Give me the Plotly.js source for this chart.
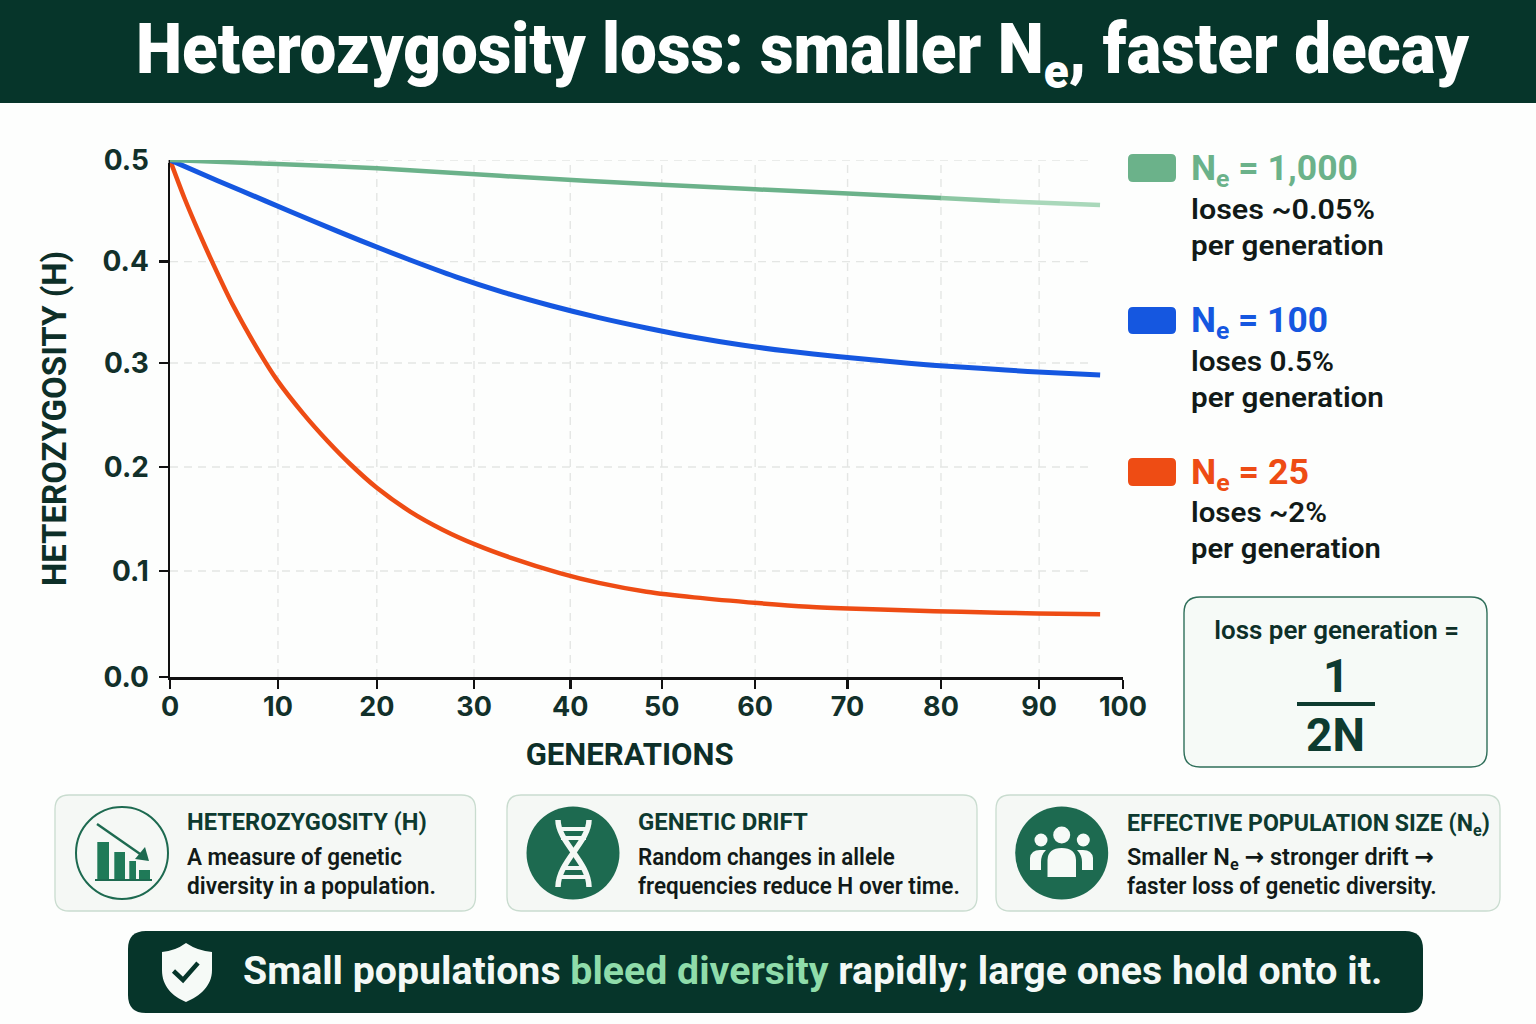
<!DOCTYPE html>
<html>
<head>
<meta charset="utf-8">
<script src="https://cdn.plot.ly/plotly-3.0.1.min.js"></script>
<style>html,body{margin:0;padding:0;background:#fdfefd}</style>
</head>
<body>
<div id="chart" style="width:1536px;height:1024px"></div>
<script>
// ---- data ----
const orangeX = [0,1.5,3.15,4.5,6.5,9.4,11.2,14,16.5,18.9,21.7,25.2,28.6,32.2,35.7,40.9,45,50,55,61.7,67,72,77,83,91,97.6];
const orangeY = [0.5,0.4635,0.4275,0.4,0.3615,0.3137,0.2876,0.2545,0.2285,0.206,0.183,0.16,0.1425,0.1275,0.1155,0.1005,0.091,0.0825,0.077,0.0715,0.068,0.066,0.0645,0.063,0.0615,0.0608];
const blueX = [0,5,10,15,20,25,30,35,40,45,50,55,60,65,70,75,80,85,90,97.6];
const blueY = [0.5,0.48,0.4605,0.441,0.422,0.404,0.387,0.372,0.359,0.3475,0.3375,0.3285,0.321,0.315,0.31,0.3055,0.3015,0.2985,0.2955,0.2921];
const greenX = [0,11.23,21.72,34.63,51.63,71.14,80.9,87.09,97.59];
const greenY = [0.5,0.4961,0.492,0.4847,0.476,0.4676,0.4632,0.4603,0.4565];
const xTickVals = [0,11.33,21.7,31.9,42,51.6,61.4,71.1,80.9,91.2,100];
const xTickText = ["0","10","20","30","40","50","60","70","80","90","100"];
const yTickVals = [0,0.1025,0.2031,0.3037,0.4017,0.5];
const yTickText = ["0.0","0.1","0.2","0.3","0.4","0.5"];
const seriesNames = ["Ne = 25","Ne = 100","Ne = 1,000"];
const titleText = "Heterozygosity loss: smaller N<sub>e</sub>, faster decay";
const legendHeads = ["N<sub>e</sub> = 1,000","N<sub>e</sub> = 100","N<sub>e</sub> = 25"];
const legendRates = ["loses ~0.05%","loses 0.5%","loses ~2%"];
const legendPer = "per generation";
const ARROW = '<span style="font-family:DejaVu Sans">→</span>';
const cardTitles = ["HETEROZYGOSITY (H)","GENETIC DRIFT","EFFECTIVE POPULATION SIZE (N<sub>e</sub>)"];
const cardLine1 = ["A measure of genetic","Random changes in allele","Smaller N<sub>e</sub> "+ARROW+" stronger drift "+ARROW];
const cardLine2 = ["diversity in a population.","frequencies reduce H over time.","faster loss of genetic diversity."];

// ---- helpers ----
const W = 1536, H = 1024;
const DARK = "#06352a", INK = "#0d2f28", ICON = "#1d6a50", GREEN = "#6bb28a", BLUE = "#1557e0", ORANGE = "#ee4c14";
const px = x => x / W, py = y => 1 - y / H;
const P = s => s.replace(/(-?\d+\.?\d*)[ ,](-?\d+\.?\d*)/g, (m, a, b) => px(+a) + "," + py(+b));
const pathShape = (d, o = {}) => ({type: "path", xref: "paper", yref: "paper", path: P(d),
  fillcolor: o.fill || "rgba(0,0,0,0)", line: {color: o.color || "rgba(0,0,0,0)", width: o.width || 0}, layer: "above"});
const rr = (x0, y0, x1, y1, r) => `M${x0},${y0 + r} Q${x0},${y0} ${x0 + r},${y0} L${x1 - r},${y0} Q${x1},${y0} ${x1},${y0 + r} L${x1},${y1 - r} Q${x1},${y1} ${x1 - r},${y1} L${x0 + r},${y1} Q${x0},${y1} ${x0},${y1 - r} Z`;
const rrect = (x0, y0, x1, y1, r, fill, color, width) => pathShape(rr(x0, y0, x1, y1, r), {fill, color, width});
const circle = (cx, cy, r, fill, color, width) => ({type: "circle", xref: "paper", yref: "paper", x0: px(cx - r), x1: px(cx + r), y0: py(cy + r), y1: py(cy - r),
  fillcolor: fill, line: {color: color || "rgba(0,0,0,0)", width: width || 0}});
const fitWidths = [];
const ann = (text, x, y, size, color, o = {}) => { fitWidths.push(o.tw || 0); return {text, x: px(x), y: py(y), xref: "paper", yref: "paper", showarrow: false,
  xanchor: o.anchor || "left", yanchor: "middle", align: o.anchor === "center" ? "center" : "left", borderpad: 0, borderwidth: 0,
  font: {family: o.family || "Roboto", size, color, weight: o.weight || 500}}; };

// ---- traces ----
const lineTrace = (x, y, color, name, width) => ({x, y, name, type: "scatter", mode: "lines", hoverinfo: "skip", cliponaxis: false,
  line: {color, width, shape: "spline", smoothing: 0.8}});
const traces = [
  lineTrace(orangeX, orangeY, ORANGE, seriesNames[0], 4.5),
  lineTrace(blueX, blueY, BLUE, seriesNames[1], 5),
  lineTrace(greenX.slice(0, 7), greenY.slice(0, 7), GREEN, seriesNames[2], 4.5),
  lineTrace(greenX.slice(6, 8), greenY.slice(6, 8), "#8cc7a3", seriesNames[2], 4.5),
  lineTrace(greenX.slice(7), greenY.slice(7), "#a9d8ba", seriesNames[2], 4.5)
];

// ---- shapes ----
const shapes = [];
const gridLine = {color: "#e4e6e4", width: 1.4, dash: "8px,6px"};
xTickVals.slice(1, -1).forEach(v => shapes.push({type: "line", xref: "x", yref: "y", x0: v, x1: v, y0: 0, y1: 0.5, line: gridLine, layer: "below"}));
yTickVals.slice(1).forEach(v => shapes.push({type: "line", xref: "x", yref: "y", x0: 0, x1: 96.4, y0: v, y1: v, line: gridLine, layer: "below"}));
shapes.push({type: "rect", xref: "paper", yref: "paper", x0: px(158), x1: px(168.6), y0: py(163), y1: py(157), fillcolor: "#fdfefd", line: {width: 0}});
shapes.push({type: "rect", xref: "paper", yref: "paper", x0: 0, x1: 1, y0: py(103), y1: 1, fillcolor: DARK, line: {width: 0}});
shapes.push(rrect(128, 931, 1423, 1013, 18, DARK));
shapes.push(rrect(1128, 154, 1176, 182, 5, GREEN));
shapes.push(rrect(1128, 307, 1176, 334, 5, BLUE));
shapes.push(rrect(1128, 458, 1176, 486, 5, ORANGE));
shapes.push(rrect(1184, 597, 1487, 767, 16, "#f6faf7", "#2f6f5a", 1.4));
shapes.push({type: "rect", xref: "paper", yref: "paper", x0: px(1297), x1: px(1375), y0: py(706), y1: py(702), fillcolor: "#0e3b30", line: {width: 0}});
[[55, 475.5], [507, 977], [996, 1500]].forEach(c => shapes.push(rrect(c[0], 795, c[1], 911, 14, "#f5f8f5", "#c9dccf", 1.3)));
// icon 1: falling bars
shapes.push(circle(122, 853, 46, "rgba(0,0,0,0)", ICON, 2));
[[97.3, 109, 842], [114.3, 125, 852], [129.3, 136, 861], [139, 150, 870]].forEach(b =>
  shapes.push({type: "rect", xref: "paper", yref: "paper", x0: px(b[0]), x1: px(b[1]), y0: py(880), y1: py(b[2]), fillcolor: "#1f7a58", line: {width: 0}}));
shapes.push(pathShape("M95,880 L152,880", {color: ICON, width: 2}));
shapes.push(pathShape("M97,824 L143,856", {color: ICON, width: 2.4}));
shapes.push(pathShape("M149,861 L135,859 L145,847 Z", {fill: ICON}));
// icon 2: DNA
shapes.push(circle(573, 853, 46.5, ICON));
shapes.push(pathShape("M558,820 C558,842 589,862 589,887", {color: "#f4f8f5", width: 5.5}));
shapes.push(pathShape("M589,820 C589,842 558,862 558,887", {color: "#f4f8f5", width: 5.5}));
["M559,829 L588,829", "M561,838 L586,838", "M563,868 L584,868", "M560,877 L587,877"].forEach(d => shapes.push(pathShape(d, {color: "#f4f8f5", width: 4})));
// icon 3: people
shapes.push(circle(1061.7, 853, 46.5, ICON));
[[1041, 840, 6.5], [1083.3, 840, 6.5], [1061.7, 835, 8.5]].forEach(c => shapes.push(circle(c[0], c[1], c[2], "#f6faf7")));
shapes.push(pathShape("M1030,870 L1030,858 Q1031,850 1040,850 L1046,850 Q1041,855 1041,862 L1041,870 Z", {fill: "#f6faf7"}));
shapes.push(pathShape("M1093,870 L1093,858 Q1092,850 1083,850 L1077,850 Q1082,855 1082,862 L1082,870 Z", {fill: "#f6faf7"}));
shapes.push(pathShape("M1047.5,877 L1047.5,860 Q1048,848 1061.7,848 Q1075.5,848 1076,860 L1076,877 Z", {fill: "#f6faf7"}));
// shield
shapes.push(pathShape("M186,943 Q198,951 212,952 L212,970 C212,986 200,996 186,1002 C172,996 162,986 162,970 L162,952 Q175,951 186,943 Z", {fill: "#f6faf7"}));
shapes.push(pathShape("M173.5,971 L183,980 L198,963", {color: DARK, width: 4.5}));

// ---- text ----
const annotations = [];
annotations.push(ann(titleText, 136, 54, 70, "#ffffff", {weight: 900, tw: 1334}));
annotations.push(ann("GENERATIONS", 629, 754, 31, INK, {anchor: "center", weight: 700, tw: 208}));
const headW = [167, 137, 118], rateW = [184, 143, 136], perW = [193, 193, 190];
[168, 320, 472].forEach((y, i) => {
  annotations.push(ann(legendHeads[i], 1191, y + 2, 35, [GREEN, BLUE, ORANGE][i], {weight: 700, tw: headW[i]}));
  annotations.push(ann(legendRates[i], 1191, y + (i === 2 ? 40 : 41), 28, "#111a18", {weight: 600, tw: rateW[i]}));
  annotations.push(ann(legendPer, 1191, y + (i === 2 ? 76 : 77), 28, "#111a18", {weight: 600, tw: perW[i]}));
});
annotations.push(ann("loss per generation =", 1336, 630, 26, INK, {anchor: "center", weight: 600, tw: 245}));
annotations.push(ann("1", 1336, 676, 46, "#0e3b30", {anchor: "center", weight: 700}));
annotations.push(ann("2N", 1335, 735, 46, "#0e3b30", {anchor: "center", weight: 700}));
const cardTW = [240, 170, 363], line1TW = [215, 257, 307], line2TW = [249, 322, 310];
[187, 638, 1127].forEach((x, i) => {
  annotations.push(ann(cardTitles[i], x, i === 2 ? 824 : 822, 24, "#0d3a2f", {weight: 700, tw: cardTW[i]}));
  annotations.push(ann(cardLine1[i], x, i === 2 ? 858 : 857, 24, "#111a18", {weight: 600, tw: line1TW[i]}));
  annotations.push(ann(cardLine2[i], x, 886, 24, "#111a18", {weight: 600, tw: line2TW[i]}));
});
annotations.push(ann('Small populations <span style="color:#8fdcaa">bleed diversity</span> rapidly; large ones hold onto it.', 243, 971, 39, "#f4f9f6", {weight: 700, tw: 1140}));

const tickFont = {family: "Inter", size: 27, color: "#12302a", weight: 700};
const layout = {
  width: W, height: H, autosize: false, showlegend: false,
  margin: {l: 0, r: 0, t: 0, b: 0, pad: 0},
  paper_bgcolor: "#fdfefd", plot_bgcolor: "rgba(0,0,0,0)",
  xaxis: {domain: [px(170), px(1123)], range: [0, 100], tickmode: "array", tickvals: xTickVals, ticktext: xTickText,
    tickangle: 0, showgrid: false, zeroline: false, showline: true, linecolor: "#111", linewidth: 2.5,
    ticks: "outside", ticklen: 9, tickwidth: 2.5, tickcolor: "#111", tickfont: tickFont, ticklabelstandoff: -5},
  yaxis: {domain: [py(677), py(160)], range: [0, 0.5], tickmode: "array", tickvals: yTickVals, ticktext: yTickText,
    showgrid: false, zeroline: false, showline: true, linecolor: "#111", linewidth: 2.5,
    ticks: "outside", ticklen: 9, tickwidth: 2.5, tickcolor: "#111", tickfont: {family: "Inter", size: 28, color: "#12302a", weight: 700}, ticklabelstandoff: 4,
    title: {text: "HETEROZYGOSITY (H)", standoff: 26, font: {family: "Roboto", size: 33, color: INK, weight: 700}}},
  shapes, annotations
};
// fit each label to the width it has in the picture
function fitText() {
  document.querySelectorAll(".annotation").forEach(g => {
    const tw = fitWidths[+g.getAttribute("data-index")];
    const t = g.querySelector("text.annotation-text");
    if (!tw || !t) return;
    const b = t.getBBox();
    const cx = annotations[+g.getAttribute("data-index")].xanchor === "center" ? b.x + b.width / 2 : b.x;
    t.setAttribute("transform", `translate(${cx},0) scale(${tw / b.width},1) translate(${-cx},0)`);
  });
}
Plotly.newPlot("chart", traces, layout, {displayModeBar: false, staticPlot: true}).then(() =>
  (document.fonts && document.fonts.ready ? document.fonts.ready : Promise.resolve()).then(fitText));
</script>
</body>
</html>
